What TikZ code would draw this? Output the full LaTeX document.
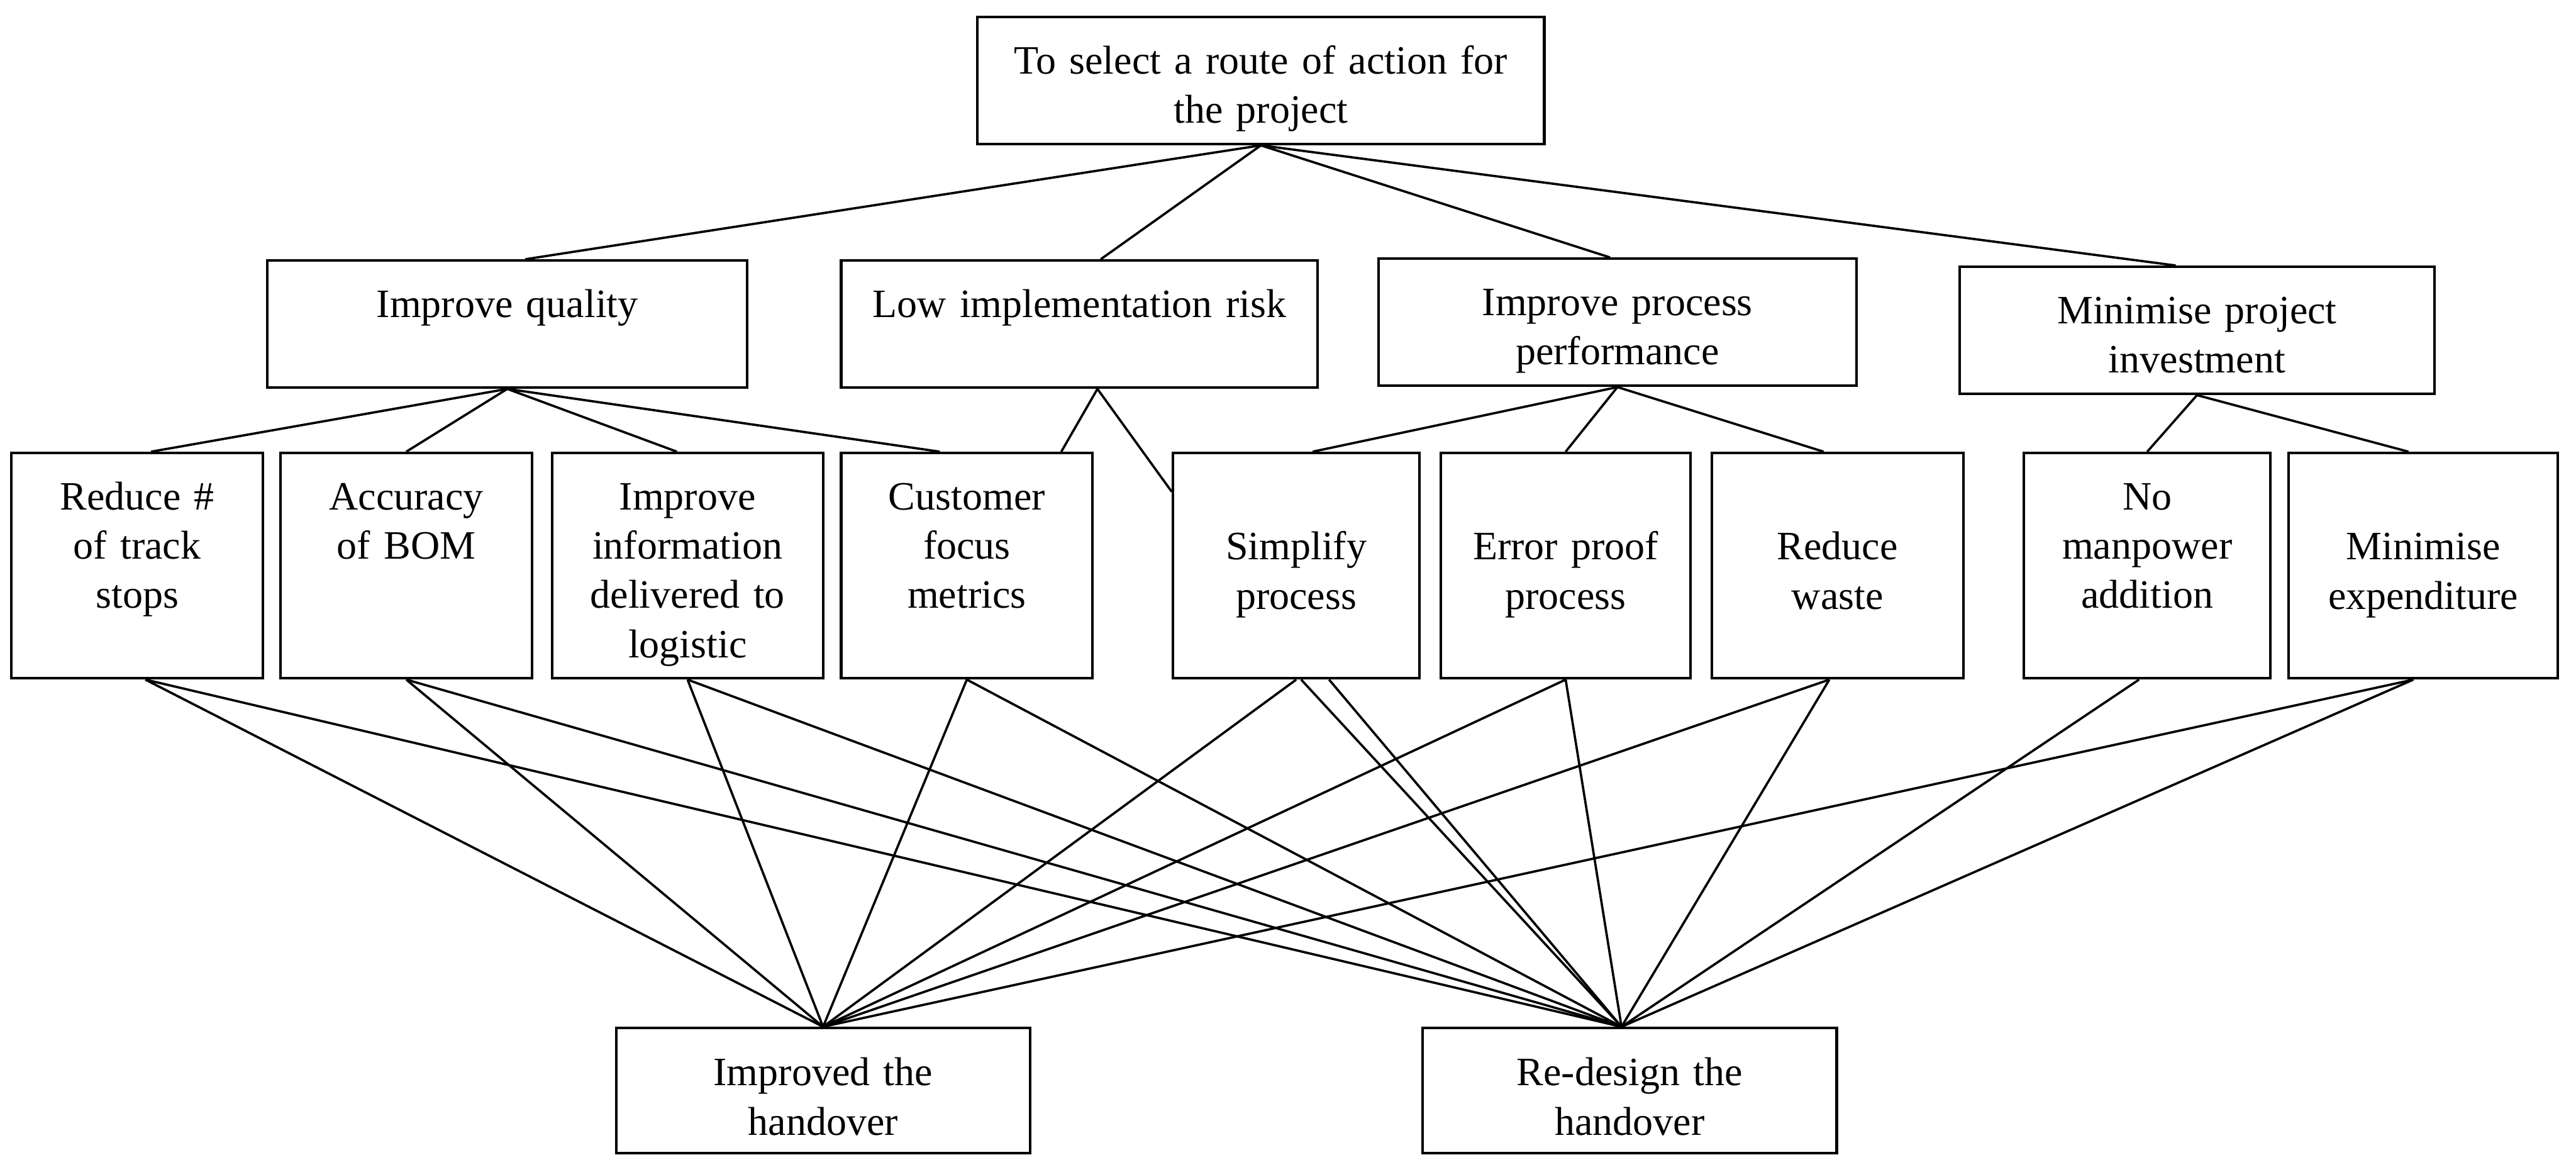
\documentclass[tikz,border=0pt]{standalone}
\usepackage{fontspec}
\setmainfont{Liberation Serif}
\begin{document}
\begin{tikzpicture}[x=1pt,y=-1pt,
  box/.style={draw,line width=1.6pt,inner sep=0pt,align=center,font=\fontsize{24.5}{30}\selectfont},
  crit/.style={box,text width=290pt,text height=34.5pt,text depth=42.8pt},
  sub/.style={box,text width=153pt,text height=34.5pt,text depth=102.6pt},
  sublow/.style={sub,text height=65pt,text depth=72.1pt},
  alt/.style={box,text width=252pt,text height=35pt,text depth=41pt},
  link/.style={line width=1.4pt}]
\useasboundingbox (0,0) rectangle (1568,702.5);
% goal
\node[crit,text width=345pt] (goal) at (767.5,49) {To select a route of action for\\the project};
% criteria
\node[crit,text width=292pt] (iq) at (308.8,197.2) {Improve quality};
\node[crit] (lir) at (657,197.2) {Low implementation risk};
\node[crit,text width=291pt] (ipp) at (984.5,196.1) {Improve process\\performance};
\node[crit,text width=289pt] (mpi) at (1337.3,201) {Minimise project\\investment};
% sub-criteria
\node[sub] (rts) at (83.5,344.2) {Reduce \#\\of track\\stops};
\node[sub] (bom) at (247.3,344.2) {Accuracy\\of BOM};
\node[sub,text width=165pt] (info) at (418.5,344.2) {Improve\\information\\delivered to\\logistic};
\node[sub] (cfm) at (588.5,344.2) {Customer\\focus\\metrics};
\node[sublow,text width=150pt] (simp) at (789,344.2) {Simplify\\process};
\node[sublow,text width=152pt] (err) at (953,344.2) {Error proof\\process};
\node[sublow] (waste) at (1118.5,344.2) {Reduce\\waste};
\node[sub,text width=150pt] (nman) at (1307,344.2) {No\\manpower\\addition};
\node[sublow,text width=164pt] (mexp) at (1475,344.2) {Minimise\\expenditure};
% alternatives
\node[alt] (imp) at (501,663.6) {Improved the\\handover};
\node[alt] (red) at (992,663.6) {Re-design the\\handover};
% goal to criteria
\draw[link] (goal.south) -- ([xshift=11pt]iq.north);
\draw[link] (goal.south) -- ([xshift=13pt]lir.north);
\draw[link] (goal.south) -- ([xshift=-4.5pt]ipp.north);
\draw[link] (goal.south) -- ([xshift=-13pt]mpi.north);
% criteria to sub-criteria
\draw[link] (iq.south) -- ([xshift=8.5pt]rts.north);
\draw[link] (iq.south) -- (bom.north);
\draw[link] (iq.south) -- ([xshift=-6.5pt]info.north);
\draw[link] (iq.south) -- ([xshift=-16.5pt]cfm.north);
\draw[link] ([xshift=11pt]lir.south) -- ([xshift=57.5pt]cfm.north);
\draw[link] ([xshift=11pt]lir.south) -- ([yshift=45pt]simp.west);
\draw[link] (ipp.south) -- ([xshift=10pt]simp.north);
\draw[link] (ipp.south) -- (err.north);
\draw[link] (ipp.south) -- ([xshift=-8.5pt]waste.north);
\draw[link] (mpi.south) -- (nman.north);
\draw[link] (mpi.south) -- ([xshift=-9pt]mexp.north);
% sub-criteria to alternatives
\draw[link] ([xshift=5pt]rts.south) -- (imp.north);
\draw[link] ([xshift=5pt]rts.south) -- ([xshift=-5pt]red.north);
\draw[link] (bom.south) -- (imp.north);
\draw[link] (bom.south) -- ([xshift=-5pt]red.north);
\draw[link] (info.south) -- (imp.north);
\draw[link] (info.south) -- ([xshift=-5pt]red.north);
\draw[link] (cfm.south) -- (imp.north);
\draw[link] (cfm.south) -- ([xshift=-5pt]red.north);
\draw[link] (simp.south) -- (imp.north);
\draw[link] ([xshift=3pt]simp.south) -- ([xshift=-5pt]red.north);
\draw[link] ([xshift=20pt]simp.south) -- ([xshift=-5pt]red.north);
\draw[link] (err.south) -- (imp.north);
\draw[link] (err.south) -- ([xshift=-5pt]red.north);
\draw[link] ([xshift=-5pt]waste.south) -- (imp.north);
\draw[link] ([xshift=-5pt]waste.south) -- ([xshift=-5pt]red.north);
\draw[link] ([xshift=-5pt]nman.south) -- ([xshift=-5pt]red.north);
\draw[link] ([xshift=-6pt]mexp.south) -- (imp.north);
\draw[link] ([xshift=-6pt]mexp.south) -- ([xshift=-5pt]red.north);
\end{tikzpicture}
\end{document}
